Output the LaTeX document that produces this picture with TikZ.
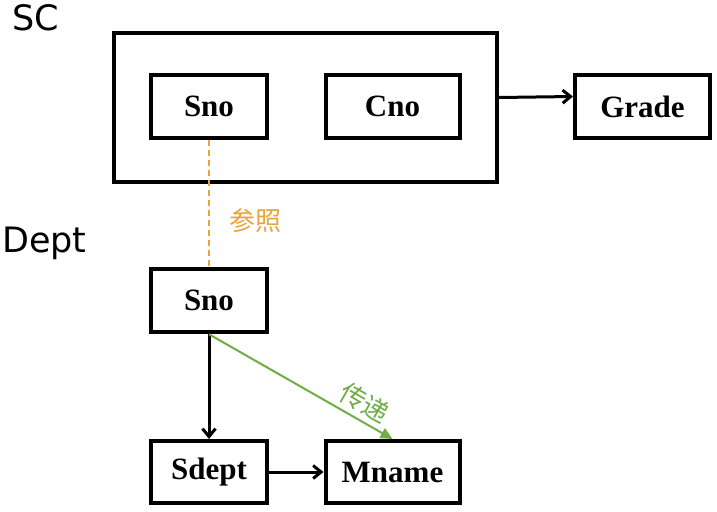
\documentclass[tikz,border=0pt]{standalone}
\usepackage{fontspec}
\setmainfont{Liberation Serif}
\newfontfamily\tablefont{DejaVu Sans}
\newfontfamily\cjkfont{Noto Sans CJK SC}
\usetikzlibrary{arrows.meta}
\definecolor{refcolor}{RGB}{233,163,62}
\definecolor{passcolor}{RGB}{112,173,71}

\begin{document}
\begin{tikzpicture}[x=1pt, y=-1pt,
	conn/.style={draw, line width=3pt, -{Straight Barb[length=8pt, width=13pt]}},
	attr/.style={draw, line width=4pt, minimum height=63pt, inner sep=0pt,
		font=\fontsize{31}{36}\selectfont\bfseries},
	tname/.style={anchor=base west, inner sep=0pt, font=\tablefont\fontsize{35}{40}\selectfont}]
	\useasboundingbox (0,0) rectangle (717,511);
	
	% Bang SC
	\node[tname] (scname) at (12,31) {SC};
	\node[draw, line width=4pt, minimum width=383pt, minimum height=149pt] (sc) at (305.5,107.5) {};
	\node[attr, minimum width=116pt] (scsno) at (209,106.5) {Sno};
	\node[attr, minimum width=134pt] (cno) at (392.5,106.5) {Cno};
	\node[attr, minimum width=135pt] (grade) at (642.5,106.5) {Grade};
	\draw[conn] ([yshift=10pt]sc.east) -- ([yshift=10pt]grade.west);
	
	% Bang Dept
	\node[tname] (deptname) at (2,252) {Dept};
	\node[attr, minimum width=116pt] (sno) at (209,300.75) {Sno};
	\node[attr, minimum width=116pt, minimum height=62pt] (sdept) at (209,472) {Sdept};
	\node[attr, minimum width=134pt, minimum height=62pt] (mname) at (392.5,472) {Mname};
	\draw[conn] (sno.south) -- (sdept.north);
	\draw[conn] (sdept.east) -- (mname.west);
	
	% tham chieu va truyen
	\draw[refcolor, line width=2pt, dash pattern=on 6pt off 4pt] (scsno.south) -- (sno.north);
	\node[refcolor, font=\cjkfont\fontsize{26}{30}\selectfont] (ref) at (255,221) {参照};
	\draw[passcolor, line width=2pt, -{Triangle[length=12pt, width=11pt]}] (sno.south) -- (mname.north)
		node[pos=0.8, sloped, above, inner sep=5pt, font=\cjkfont\fontsize{26}{30}\selectfont] (pass) {传递};
\end{tikzpicture}
\end{document}
